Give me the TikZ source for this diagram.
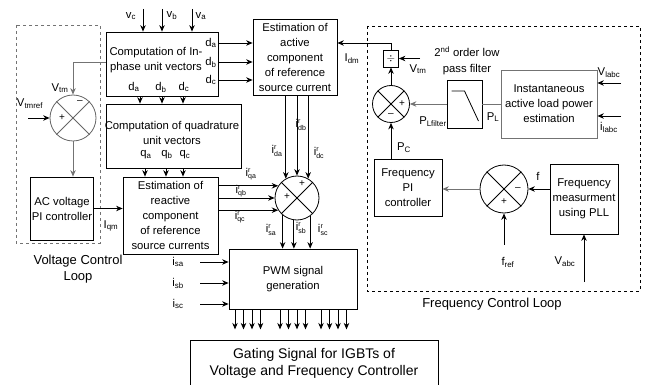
\documentclass[tikz,border=0pt]{standalone}
\usepackage{fontspec}
\setmainfont{Liberation Sans}
\usepackage{tikz}
\usetikzlibrary{arrows,arrows.meta,shapes,calc}
\tikzset{
  block/.style = {draw=black, rectangle, align=center, inner sep=1pt, text centered},
  gblock/.style = {block, draw=black!55},
  summer/.style = {draw=black, circle, inner sep=0pt},
  gsummer/.style = {summer, draw=black!60},
  lbl/.style = {inner sep=0pt, align=center},% plain text
  biglbl/.style = {lbl, font=\fontsize{13}{16}\selectfont},
  sgn/.style = {inner sep=0pt, font=\fontsize{10}{10}\selectfont},
}
\newcommand{\lsub}[2]{#1\textsubscript{#2}}
\newcommand{\iref}[1]{i$^{\mbox{\scriptsize r}}_{\mbox{\scriptsize #1}}$}
\newcommand{\crossit}[1]{\draw (#1.45) -- (#1.225) (#1.135) -- (#1.315);}

\begin{document}
\begin{tikzpicture}[x=1pt,y=-1pt,>={Stealth[length=6.5pt,width=5.5pt]},line width=0.8pt,
  font=\fontsize{11.3}{15}\selectfont]
\useasboundingbox (0,0) rectangle (646,385);
\clip (0,0) rectangle (646,385);

% voltage control loop
\draw[black!55,dashed] (16,25) rectangle (100,243);
\node[biglbl] (vloop) at (78,269) {Voltage Control\\Loop};

\node[block, minimum width=112, minimum height=64] (inphase) at (162,64) {};
\node[lbl] (inphtxt) at (156,60) {Computation of In-\\phase unit vectors};
\node[lbl] (da1) at (211,43) {\lsub{d}{a}};
\node[lbl] (db1) at (211,62) {\lsub{d}{b}};
\node[lbl] (dc1) at (211,80) {\lsub{d}{c}};
\node[lbl] (da2) at (134,87) {\lsub{d}{a}};
\node[lbl] (db2) at (161,87) {\lsub{d}{b}};
\node[lbl] (dc2) at (184,87) {\lsub{d}{c}};

\coordinate (vcin) at (143,9);
\coordinate (vbin) at (162,9);
\coordinate (vain) at (192,9);
\draw[->] (vcin) -- (vcin |- inphase.north);
\draw[->] (vbin) -- (vbin |- inphase.north);
\draw[->] (vain) -- (vain |- inphase.north);
\node[lbl] (vclbl) at (131,16) {\lsub{v}{c}};
\node[lbl] (vblbl) at (172,16) {\lsub{v}{b}};
\node[lbl] (valbl) at (201,16) {\lsub{v}{a}};

\node[block, minimum width=135, minimum height=64] (quad) at (173.5,136) {};
\node[lbl] (quadtxt) at (172,133) {Computation of quadrature\\unit vectors};
\node[lbl] (qa) at (146,155) {\lsub{q}{a}};
\node[lbl] (qb) at (167,155) {\lsub{q}{b}};
\node[lbl] (qc) at (185,155) {\lsub{q}{c}};
\foreach \xx in {140,162,183}
  \draw[->] (inphase.south -| \xx,0) -- (quad.north -| \xx,0);

\node[block, minimum width=95, minimum height=77] (react) at (170.5,215.5)
  {Estimation of\\reactive\\component\\of reference\\source currents};
\foreach \xx in {145,166,183}
  \draw[->] (quad.south -| \xx,0) -- (react.north -| \xx,0);

\node[block, minimum width=84, minimum height=76] (active) at (295,57)
  {Estimation of\\active\\component\\of reference\\source current};
\foreach \yy in {43,62,80}
  \draw[->] (inphase.east |- 0,\yy) -- (active.west |- 0,\yy);

\node[gsummer, minimum size=46] (sumv) at (73,118) {};
\draw[black!60] (sumv.45) -- (sumv.225) (sumv.135) -- (sumv.315);
\node[sgn] (sumvm) at (80,102) {--};
\node[sgn] (sumvp) at (62,118) {+};
\draw[->,black!55] (inphase.west |- 0,62) -| (sumv.north);
\node[lbl] (vtmlbl) at (60,88) {\lsub{V}{tm}};
\coordinate (vref) at (28,118);
\draw[->] (vref) -- (sumv.west);
\node[lbl] (vreflbl) at (30,104) {\lsub{V}{tmref}};

\node[block, minimum width=62, minimum height=63] (acpi) at (62,208.5)
  {AC voltage\\PI controller};
\draw[->,black!55] (sumv.south) -- (sumv.south |- acpi.north);
\draw[->] (acpi.east) -- (react.west |- acpi.east);
\node[lbl] (iqmlbl) at (111,226) {\lsub{I}{qm}};

% current summing point
\node[summer, minimum size=44] (sumi) at (297,198) {};
\crossit{sumi}
\node[sgn] (sumip) at (287,197) {+};
\node[sgn] (sumit) at (302,184) {+};
\draw[->] (active.south -| sumi.120) -- (sumi.120);
\draw[->] (active.south -| sumi.north) -- (sumi.north);
\draw[->] (active.south -| sumi.60) -- (sumi.60);
\node[lbl] (idalbl) at (277,151) {\iref{da}};
\node[lbl] (idblbl) at (301,125) {\iref{db}};
\node[lbl] (idclbl) at (319,153) {\iref{dc}};
\draw[->] (react.east |- sumi.147) -- (sumi.147);
\draw[->] (react.east |- sumi.west) -- (sumi.west);
\draw[->] (react.east |- sumi.213) -- (sumi.213);
\node[lbl] (iqalbl) at (251,174) {\iref{qa}};
\node[lbl] (iqblbl) at (241,191) {\iref{qb}};
\node[lbl] (iqclbl) at (240,217) {\iref{qc}};

\node[block, minimum width=128, minimum height=60] (pwm) at (293,279)
  {PWM signal\\generation};
\draw[->] (sumi.230) -- (pwm.north -| sumi.230);
\draw[->] (sumi.262) -- (pwm.north -| sumi.262);
\draw[->] (sumi.306) -- (pwm.north -| sumi.306);
\node[lbl] (isalbl) at (271,230) {\iref{sa}};
\node[lbl] (isblbl) at (301,228) {\iref{sb}};
\node[lbl] (isclbl) at (323,230) {\iref{sc}};

\foreach \yy/\nm in {262/sa,283/sb,304/sc}{
  \coordinate (in\nm) at (200,\yy);
  \draw[->] (in\nm) -- (pwm.west |- in\nm);
  \node[lbl] (l\nm) at (178,\yy) {\lsub{i}{\nm}};
}

\node[block, minimum width=248, minimum height=55] (gate) at (314,367.5) {};
\node[lbl, font=\fontsize{14}{17}\selectfont] (gatetxt) at (314,363)
  {Gating Signal for IGBTs of\\Voltage and Frequency Controller};
\foreach \g in {235,280,321}
  \foreach \k in {0,...,3}
    \draw[->] (pwm.south -| \g+8.5*\k,0) -- ++(0,20);

% frequency control loop
\draw[dashed] (367,26) rectangle (640,291);
\node[biglbl] (floop) at (492,304) {Frequency Control Loop};

\node[block, minimum width=15, minimum height=17, inner sep=0pt] (divb) at (391,58.5) {$\div$};
\draw[->] (divb.north) |- (active.east |- 0,43);
\node[lbl] (idmlbl) at (352,59) {\lsub{I}{dm}};
\coordinate (vtmin) at (420,58.5);
\draw[->] (vtmin) -- (divb.east);
\node[lbl] (vtm2lbl) at (418,69) {\lsub{V}{tm}};

\node[summer, minimum size=37] (sump) at (391,104) {};
\crossit{sump}
\node[sgn] (sumpp) at (402,104) {+};
\node[sgn] (sumpm) at (391,115) {--};
\draw[->] (sump.north) -- (divb.south);

\node[block, minimum width=35, minimum height=48] (lpf) at (464.5,104) {};
\draw ([shift={(-13,-13)}]lpf.center) -- ++(13,0) -- ++(14,30);
\node[lbl, font=\fontsize{11.3}{16}\selectfont] (lpflbl) at (467,61) {2\textsuperscript{nd} order low\\pass filter};
\draw[->,black!55] (lpf.west) -- (sump.east);
\node[lbl] (plflbl) at (433,122) {\lsub{P}{Lfilter}};

\node[gblock, minimum width=96, minimum height=68] (inst) at (549,104)
  {Instantaneous\\active load power\\estimation};
\draw[black!55] (inst.west) -- (lpf.east);
\node[lbl] (pllbl) at (493,117) {\lsub{P}{L}};
\coordinate (vlin) at (621,83);
\draw[->] (vlin) -- (inst.east |- vlin);
\node[lbl] (vllbl) at (609,73) {\lsub{V}{labc}};
\coordinate (ilin) at (621,116);
\draw[->] (ilin) -- (inst.east |- ilin);
\node[lbl] (illbl) at (609,127) {\lsub{i}{labc}};

\node[block, minimum width=68, minimum height=57] (fpi) at (408,187.5)
  {Frequency\\PI\\controller};
\draw[->] (sump.south |- fpi.north) -- (sump.south);
\node[lbl] (pclbl) at (404,148) {\lsub{P}{C}};

\node[summer, minimum size=48] (sumf) at (504,189) {};
\crossit{sumf}
\node[sgn] (sumfm) at (518,189) {--};
\node[sgn] (sumfp) at (504,202) {+};
\draw[->,black!55] (sumf.west) -- (fpi.east |- sumf.west);

\node[block, minimum width=68, minimum height=70] (fmeas) at (584,199)
  {Frequency\\measurment\\using PLL};
\draw[->] (fmeas.west |- sumf.east) -- (sumf.east);
\node[lbl] (flbl) at (538,176) {f};
\coordinate (fref) at (504,245);
\draw[->] (fref) -- (sumf.south);
\node[lbl] (freflbl) at (508,262) {\lsub{f}{ref}};
\coordinate (vabc) at (584,282);
\draw[->] (vabc) -- (fmeas.south);
\node[lbl] (vabclbl) at (565,262) {\lsub{V}{abc}};
\end{tikzpicture}
\end{document}
